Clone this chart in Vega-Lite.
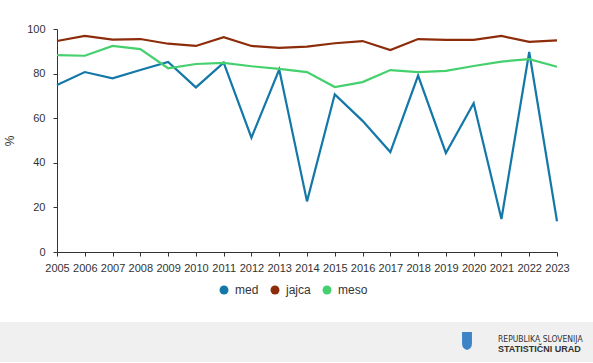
{
  "$schema": "https://vega.github.io/schema/vega-lite/v6.json",
  "padding": {"left": 0, "top": 23, "right": 0, "bottom": 0},
  "background": "white",
  "spacing": 26,
  "config": {
    "font": "Liberation Sans",
    "view": {"stroke": null},
    "axis": {"labelColor": "#333333", "titleColor": "#333333", "domainColor": "#333333", "tickColor": "#333333", "grid": false}
  },
  "resolve": {"legend": {"color": "independent"}},
  "vconcat": [
    {
      "width": 500,
      "height": 223,
      "data": {"values": [
        {"year": "2005", "series": "med", "value": 74.9},
        {"year": "2006", "series": "med", "value": 80.7},
        {"year": "2007", "series": "med", "value": 77.9},
        {"year": "2008", "series": "med", "value": 81.6},
        {"year": "2009", "series": "med", "value": 85.2},
        {"year": "2010", "series": "med", "value": 73.8},
        {"year": "2011", "series": "med", "value": 84.9},
        {"year": "2012", "series": "med", "value": 51.3},
        {"year": "2013", "series": "med", "value": 81.8},
        {"year": "2014", "series": "med", "value": 22.7},
        {"year": "2015", "series": "med", "value": 70.7},
        {"year": "2016", "series": "med", "value": 58.8},
        {"year": "2017", "series": "med", "value": 44.8},
        {"year": "2018", "series": "med", "value": 79.1},
        {"year": "2019", "series": "med", "value": 44.4},
        {"year": "2020", "series": "med", "value": 66.7},
        {"year": "2021", "series": "med", "value": 14.8},
        {"year": "2022", "series": "med", "value": 89.7},
        {"year": "2023", "series": "med", "value": 13.8},
        {"year": "2005", "series": "jajca", "value": 94.6},
        {"year": "2006", "series": "jajca", "value": 96.9},
        {"year": "2007", "series": "jajca", "value": 95.2},
        {"year": "2008", "series": "jajca", "value": 95.5},
        {"year": "2009", "series": "jajca", "value": 93.4},
        {"year": "2010", "series": "jajca", "value": 92.4},
        {"year": "2011", "series": "jajca", "value": 96.3},
        {"year": "2012", "series": "jajca", "value": 92.4},
        {"year": "2013", "series": "jajca", "value": 91.5},
        {"year": "2014", "series": "jajca", "value": 92.1},
        {"year": "2015", "series": "jajca", "value": 93.6},
        {"year": "2016", "series": "jajca", "value": 94.6},
        {"year": "2017", "series": "jajca", "value": 90.6},
        {"year": "2018", "series": "jajca", "value": 95.5},
        {"year": "2019", "series": "jajca", "value": 95.1},
        {"year": "2020", "series": "jajca", "value": 95.1},
        {"year": "2021", "series": "jajca", "value": 96.9},
        {"year": "2022", "series": "jajca", "value": 94.2},
        {"year": "2023", "series": "jajca", "value": 94.9},
        {"year": "2005", "series": "meso", "value": 88.3},
        {"year": "2006", "series": "meso", "value": 88.0},
        {"year": "2007", "series": "meso", "value": 92.4},
        {"year": "2008", "series": "meso", "value": 91.0},
        {"year": "2009", "series": "meso", "value": 82.4},
        {"year": "2010", "series": "meso", "value": 84.3},
        {"year": "2011", "series": "meso", "value": 84.8},
        {"year": "2012", "series": "meso", "value": 83.3},
        {"year": "2013", "series": "meso", "value": 82.1},
        {"year": "2014", "series": "meso", "value": 80.7},
        {"year": "2015", "series": "meso", "value": 74.0},
        {"year": "2016", "series": "meso", "value": 76.2},
        {"year": "2017", "series": "meso", "value": 81.6},
        {"year": "2018", "series": "meso", "value": 80.7},
        {"year": "2019", "series": "meso", "value": 81.2},
        {"year": "2020", "series": "meso", "value": 83.4},
        {"year": "2021", "series": "meso", "value": 85.4},
        {"year": "2022", "series": "meso", "value": 86.5},
        {"year": "2023", "series": "meso", "value": 83.1}
      ]},
      "mark": {"type": "line", "strokeWidth": 2.2},
      "encoding": {
        "x": {
          "field": "year", "type": "ordinal",
          "scale": {"type": "point", "padding": 0},
          "axis": {"title": null, "labelAngle": 0, "labelFontSize": 11, "tickSize": 4, "labelPadding": 6, "labelOverlap": false}
        },
        "y": {
          "field": "value", "type": "quantitative",
          "scale": {"domain": [0, 100], "nice": false},
          "axis": {"title": "%", "values": [0, 20, 40, 60, 80, 100], "labelFontSize": 11, "tickSize": 4, "labelPadding": 8, "titleFontSize": 12, "titleFontWeight": "normal", "titlePadding": 10}
        },
        "color": {
          "field": "series", "type": "nominal",
          "scale": {"domain": ["med", "jajca", "meso"], "range": ["#1378a8", "#8c2c0a", "#45d06e"]},
          "legend": {
            "title": null, "orient": "none", "direction": "horizontal", "legendX": 161, "legendY": 255,
            "symbolType": "circle", "symbolSize": 80, "labelFontSize": 12, "labelColor": "#333333", "labelOffset": 5, "columnPadding": 10,
            "encode": {"symbols": {"update": {"fill": {"scale": "color", "field": "value"}, "strokeWidth": {"value": 0}, "opacity": {"value": 1}}}}
          }
        }
      }
    },
    {
      "width": 536,
      "height": 40,
      "data": {"values": [
        {"line": "REPUBLIKA SLOVENIJA", "kind": "top"},
        {"line": "STATISTIČNI URAD", "kind": "bottom"}
      ]},
      "layer": [
        {
          "transform": [{"filter": "datum.kind === 'top'"}],
          "mark": {"type": "rect", "color": "#f0f0f0", "clip": false},
          "encoding": {"x": {"value": -57}, "x2": {"value": 536}, "y": {"value": 0}, "y2": {"value": 40}}
        },
        {
          "transform": [{"filter": "datum.kind === 'top'"}],
          "mark": {"type": "text", "align": "left", "baseline": "middle", "x": 441, "y": 17, "font": "'DejaVu Sans Condensed', 'Liberation Sans'", "fontSize": 8.5, "color": "#333333"},
          "encoding": {"text": {"field": "line"}}
        },
        {
          "transform": [{"filter": "datum.kind === 'bottom'"}],
          "mark": {"type": "text", "align": "left", "baseline": "middle", "x": 441, "y": 26.5, "font": "Liberation Sans", "fontWeight": "bold", "fontSize": 9, "color": "#333333"},
          "encoding": {"text": {"field": "line"}}
        },
        {
          "transform": [{"filter": "datum.kind === 'top'"}],
          "mark": {"type": "point", "filled": true, "x": 410, "y": 19, "size": 324, "color": "#3d84c6", "opacity": 1, "shape": "M-0.55,-1L0.55,-1L0.55,0.25Q0.55,0.85 0,1Q-0.55,0.85 -0.55,0.25Z"},
          "encoding": {}
        }
      ]
    }
  ]
}
